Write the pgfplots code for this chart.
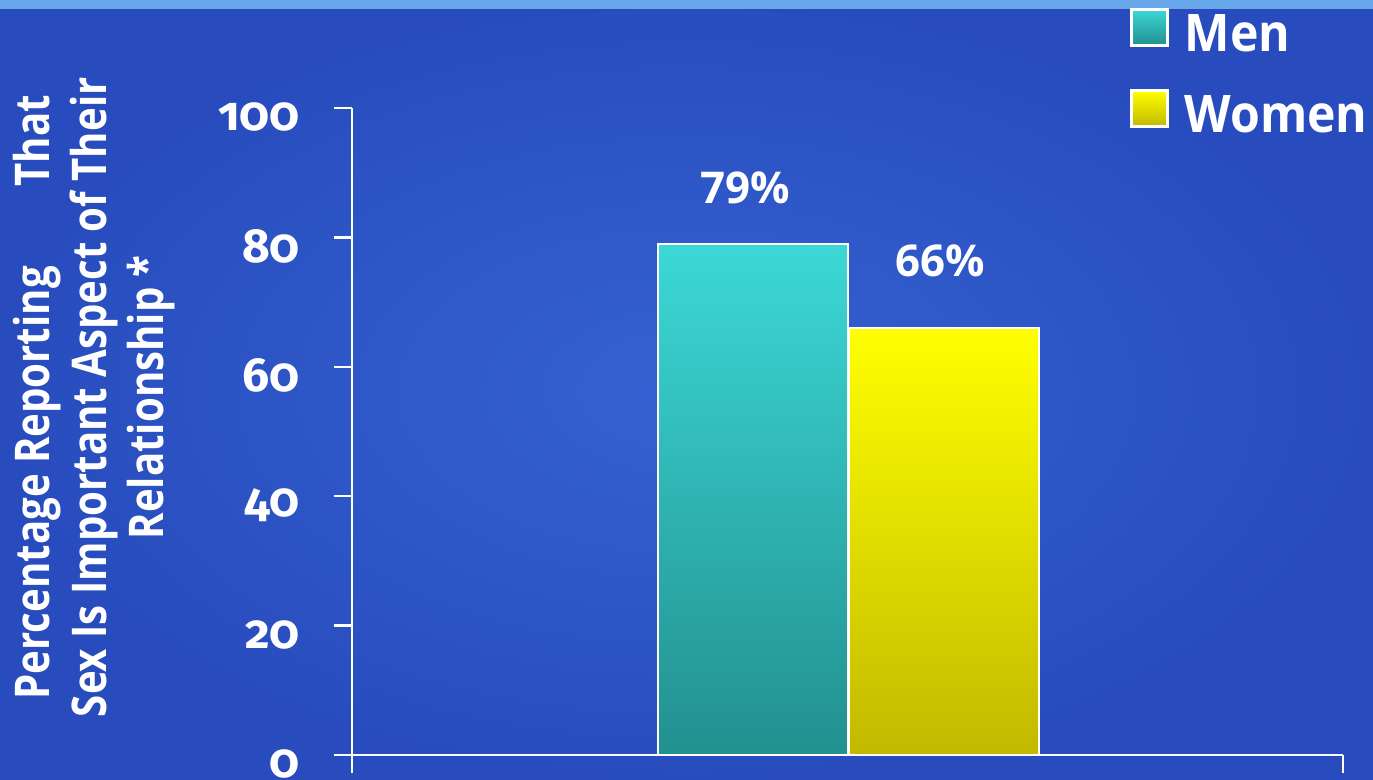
\documentclass[border=0pt]{standalone}
\usepackage{pgfplots}
\pgfplotsset{compat=1.18}
\usepackage{fontspec}
\setmainfont{Open Sans}
\newfontfamily\labfont{Open Sans}[FakeStretch=0.84]
\newfontfamily\legfont{Open Sans}[FakeStretch=0.93]
\newfontfamily\tickfont{Fira Sans}[Numbers=OldStyle]
\definecolor{bgin}{HTML}{3562D2}
\definecolor{bgout}{HTML}{284CBD}
\definecolor{stripe}{HTML}{68A8EA}
\definecolor{menTop}{HTML}{3CD8D6}
\definecolor{menBot}{HTML}{22908F}
\definecolor{womTop}{HTML}{FFFF00}
\definecolor{womBot}{HTML}{C2B900}
\begin{document}
\begin{tikzpicture}
\path[use as bounding box] (0,0) rectangle (686.5bp,390bp);
\shade[inner color=bgin, outer color=bgout] (0,0) rectangle (686.5bp,390bp);
\fill[stripe] (0,385.5bp) rectangle (686.5bp,390bp);
\begin{axis}[
  at={(176bp,12.5bp)}, anchor=south west,
  scale only axis, width=495.5bp, height=323.5bp,
  clip=false,
  /pgf/number format/assume math mode=true,
  xmin=0, xmax=1, ymin=0, ymax=100,
  axis x line=bottom, axis y line=left,
  axis line style={-, white, line width=1.25bp},
  every tick/.style={white, line width=1.25bp},
  tick align=outside, major tick length=9bp,
  xtick={0,1}, xticklabels={},
  ytick={0,20,40,60,80,100},
  yticklabel style={font=\tickfont\bfseries\fontsize{24}{28}\selectfont, text=white, xshift=-13.5bp, yshift=-4.5bp},
  ylabel={Percentage Reporting\hspace{40bp}That\\Sex Is Important Aspect of Their\\Relationship *},
  ylabel style={at={(axis description cs:-0.2603,0.553)}, anchor=center, align=center,
    font=\labfont\bfseries\fontsize{24}{28.5}\selectfont, text=white},
  ybar, bar shift=0pt, bar width=0.1917,
  legend style={at={(axis description cs:0.785,1.1561)}, anchor=north west,
    draw=none, fill=none, inner sep=0pt, row sep=9.5bp, column sep=5bp,
    font=\legfont\bfseries\fontsize{26}{30}\selectfont, text=white,
    nodes={text height=19bp, text depth=6bp, inner sep=3bp}},
  legend cell align=left,
  legend image code/.code={\draw[#1, draw=white, line width=1.2bp] (0bp,-3.5bp) rectangle (18bp,14.5bp);},
  nodes near coords={\pgfmathprintnumber{\pgfplotspointmeta}\%},
  every node near coord/.append style={font=\bfseries\fontsize{22}{26}\selectfont, text=white, anchor=center},
]
\addplot[draw=white, line width=1bp, top color=menTop, bottom color=menBot,
  every node near coord/.append style={xshift=-4bp, yshift=28bp}]
  coordinates {(0.4051,79)};
\addlegendentry{Men}
\addplot[draw=white, line width=1bp, top color=womTop, bottom color=womBot,
  every node near coord/.append style={xshift=-1.5bp, yshift=33.5bp}]
  coordinates {(0.5969,66)};
\addlegendentry{Women}
\end{axis}
\end{tikzpicture}
\end{document}
